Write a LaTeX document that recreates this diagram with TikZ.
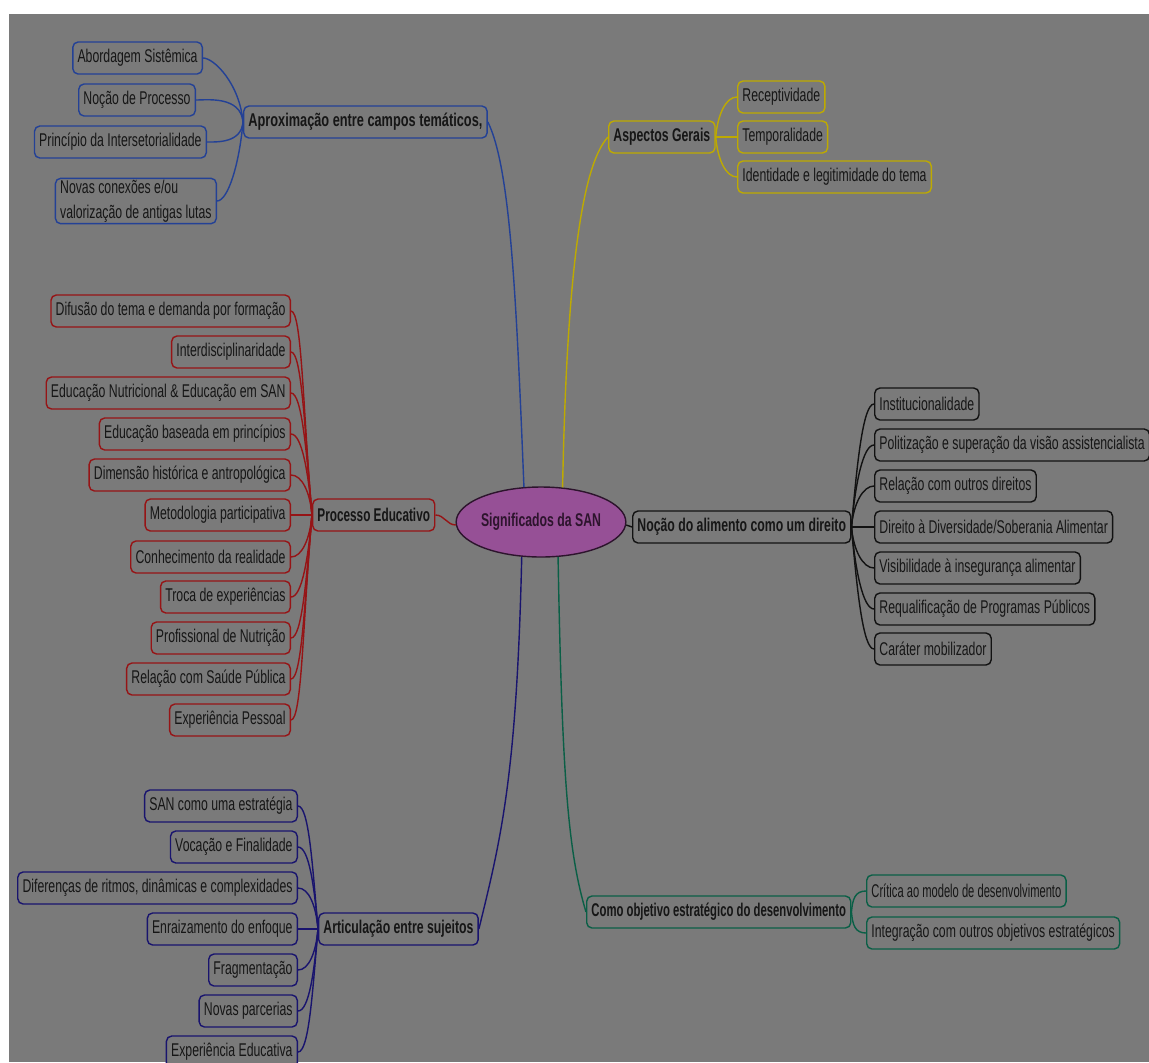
\documentclass[tikz,border=0pt]{standalone}
\usepackage{fontspec}
\setmainfont{Liberation Sans}[FakeStretch=0.665]
\usetikzlibrary{shapes.geometric}

\definecolor{bg}{RGB}{122,122,122}
\definecolor{ink}{RGB}{22,22,22}
\definecolor{cblue}{RGB}{35,65,150}
\definecolor{cyellow}{RGB}{190,170,0}
\definecolor{cred}{RGB}{150,20,22}
\definecolor{cblack}{RGB}{18,18,18}
\definecolor{cnavy}{RGB}{25,20,110}
\definecolor{cgreen}{RGB}{10,95,70}
\definecolor{rootfill}{RGB}{150,80,150}
\definecolor{rootline}{RGB}{45,20,45}

\newcommand{\mapfont}{\fontsize{10.5}{14}\selectfont}

\tikzset{
  leaf/.style={draw=#1, line width=0.8pt, rounded corners=3pt, fill=bg, text=ink,
    font=\mapfont, minimum height=0.64cm, inner xsep=2.7pt, inner ysep=1pt},
  topic/.style={leaf=#1, font=\mapfont\bfseries},
  link/.style={draw=#1, line width=0.8pt},
  root/.style={ellipse, draw=rootline, line width=0.8pt, fill=rootfill, text=rootline,
    font=\mapfont\bfseries, minimum width=2.74cm, minimum height=1.4cm, inner sep=0pt},
  la/.style={out=0, in=95, out distance=0.22cm, in looseness=1.3},
  lb/.style={out=0, in=265, out distance=0.22cm, in looseness=1.3},
  ra/.style={out=85, in=180, out looseness=1.3, in distance=0.22cm},
  rb/.style={out=275, in=180, out looseness=1.3, in distance=0.22cm}
}

\begin{document}
\begin{tikzpicture}[x=0.02cm, y=-0.02cm]
            \useasboundingbox (0,0) rectangle (1149,1062);
            \clip (0,0) rectangle (1149,1062);
            \fill[white] (0,0) rectangle (1149,1062);
            \fill[bg] (9,14) rectangle (1149,1062);

            \node[root] (san) at (541,522) {Significados da SAN};

            \node[topic=cblue, anchor=west] (ap) at (243,122) {\scalebox{1.04}[1]{Aproximação entre campos temáticos,}};
            \node[leaf=cblue, anchor=east] (ap1) at (203,58) {Abordagem Sistêmica};
            \node[leaf=cblue, anchor=east] (ap2) at (196,100) {Noção de Processo};
            \node[leaf=cblue, anchor=east] (ap3) at (207,142) {Princípio da Intersetorialidade};
            \node[leaf=cblue, anchor=east, align=left] (ap4) at (217,201) {Novas conexões e/ou\\valorização de antigas lutas};

            \node[topic=cyellow, anchor=west] (ag) at (608,137) {Aspectos Gerais};
            \node[leaf=cyellow, anchor=west] (ag1) at (737,97) {Receptividade};
            \node[leaf=cyellow, anchor=west] (ag2) at (737,137) {Temporalidade};
            \node[leaf=cyellow, anchor=west] (ag3) at (737,177) {Identidade e legitimidade do tema};

            \node[topic=cred, anchor=west] (pe) at (312,515) {\scalebox{0.96}[1]{Processo Educativo}};
            \node[leaf=cred, anchor=east] (pe1) at (291,311) {Difusão do tema e demanda por formação};
            \node[leaf=cred, anchor=east] (pe2) at (291,352) {Interdisciplinaridade};
            \node[leaf=cred, anchor=east] (pe3) at (291,393) {Educação Nutricional \& Educação em SAN};
            \node[leaf=cred, anchor=east] (pe4) at (291,434) {Educação baseada em princípios};
            \node[leaf=cred, anchor=east] (pe5) at (291,475) {Dimensão histórica e antropológica};
            \node[leaf=cred, anchor=east] (pe6) at (291,515) {Metodologia participativa};
            \node[leaf=cred, anchor=east] (pe7) at (291,557) {Conhecimento da realidade};
            \node[leaf=cred, anchor=east] (pe8) at (291,597) {Troca de experiências};
            \node[leaf=cred, anchor=east] (pe9) at (291,638) {Profissional de Nutrição};
            \node[leaf=cred, anchor=east] (pe10) at (291,679) {Relação com Saúde Pública};
            \node[leaf=cred, anchor=east] (pe11) at (291,720) {Experiência Pessoal};

            \node[topic=cblack, anchor=west] (na) at (632,527) {Noção do alimento como um direito};
            \node[leaf=cblack, anchor=west] (na1) at (874,404) {Institucionalidade};
            \node[leaf=cblack, anchor=west] (na2) at (874,445) {Politização e superação da visão assistencialista};
            \node[leaf=cblack, anchor=west] (na3) at (874,486) {Relação com outros direitos};
            \node[leaf=cblack, anchor=west] (na4) at (874,527) {Direito à Diversidade/Soberania Alimentar};
            \node[leaf=cblack, anchor=west] (na5) at (874,568) {Visibilidade à insegurança alimentar};
            \node[leaf=cblack, anchor=west] (na6) at (874,609) {Requalificação de Programas Públicos};
            \node[leaf=cblack, anchor=west] (na7) at (874,649) {Caráter mobilizador};

            \node[topic=cnavy, anchor=west] (as) at (318,929) {Articulação entre sujeitos};
            \node[leaf=cnavy, anchor=east] (as1) at (298,806) {SAN como uma estratégia};
            \node[leaf=cnavy, anchor=east] (as2) at (298,847) {Vocação e Finalidade};
            \node[leaf=cnavy, anchor=east] (as3) at (298,888) {Diferenças de ritmos, dinâmicas e complexidades};
            \node[leaf=cnavy, anchor=east] (as4) at (298,929) {Enraizamento do enfoque};
            \node[leaf=cnavy, anchor=east] (as5) at (298,970) {Fragmentação};
            \node[leaf=cnavy, anchor=east] (as6) at (298,1011) {Novas parcerias};
            \node[leaf=cnavy, anchor=east] (as7) at (298,1052) {Experiência Educativa};

            \node[topic=cgreen, anchor=west] (co) at (586,912) {\scalebox{0.922}[1]{Como objetivo estratégico do desenvolvimento}};
            \node[leaf=cgreen, anchor=west] (co1) at (866,891) {\scalebox{0.91}[1]{Crítica ao modelo de desenvolvimento}};
            \node[leaf=cgreen, anchor=west] (co2) at (866,933) {Integração com outros objetivos estratégicos};

            \draw[link=cblue] (san.116) .. controls +(-8,-200) and +(22,45) .. (ap.east);
            \draw[link=cyellow] (san.58) .. controls +(4,-200) and +(-28,30) .. (ag.west);
            \draw[link=cred] (pe.east) to[out=0,in=180] (san.182);
            \draw[link=cblack] (san.358) to[out=0,in=180] (na.west);
            \draw[link=cnavy] (san.241) .. controls +(-5,220) and +(22,-90) .. (as.east);
            \draw[link=cgreen] (san.296) .. controls +(4,220) and +(-18,-60) .. (co.west);

            \draw[link=cblue] (ap1.east) to[la] (ap.west); \draw[link=cblue] (ap2.east) to[la] (ap.west);
            \draw[link=cblue] (ap3.east) to[lb] (ap.west); \draw[link=cblue] (ap4.east) to[lb] (ap.west);

            \draw[link=cyellow] (ag.east) to[ra] (ag1.west); \draw[link=cyellow] (ag.east) to[out=0,in=180] (ag2.west);
            \draw[link=cyellow] (ag.east) to[rb] (ag3.west);

            \draw[link=cred] (pe1.east) to[la] (pe.west); \draw[link=cred] (pe2.east) to[la] (pe.west);
            \draw[link=cred] (pe3.east) to[la] (pe.west); \draw[link=cred] (pe4.east) to[la] (pe.west);
            \draw[link=cred] (pe5.east) to[la] (pe.west); \draw[link=cred] (pe6.east) to[out=0,in=180] (pe.west);
            \draw[link=cred] (pe7.east) to[lb] (pe.west); \draw[link=cred] (pe8.east) to[lb] (pe.west);
            \draw[link=cred] (pe9.east) to[lb] (pe.west); \draw[link=cred] (pe10.east) to[lb] (pe.west);
            \draw[link=cred] (pe11.east) to[lb] (pe.west);

            \draw[link=cblack] (na.east) to[ra] (na1.west); \draw[link=cblack] (na.east) to[ra] (na2.west);
            \draw[link=cblack] (na.east) to[ra] (na3.west); \draw[link=cblack] (na.east) to[out=0,in=180] (na4.west);
            \draw[link=cblack] (na.east) to[rb] (na5.west); \draw[link=cblack] (na.east) to[rb] (na6.west);
            \draw[link=cblack] (na.east) to[rb] (na7.west);

            \draw[link=cnavy] (as1.east) to[la] (as.west); \draw[link=cnavy] (as2.east) to[la] (as.west);
            \draw[link=cnavy] (as3.east) to[la] (as.west); \draw[link=cnavy] (as4.east) to[out=0,in=180] (as.west);
            \draw[link=cnavy] (as5.east) to[lb] (as.west); \draw[link=cnavy] (as6.east) to[lb] (as.west);
            \draw[link=cnavy] (as7.east) to[lb] (as.west);

            \draw[link=cgreen] (co.east) to[ra] (co1.west); \draw[link=cgreen] (co.east) to[rb] (co2.west);
        \end{tikzpicture}
\end{document}
